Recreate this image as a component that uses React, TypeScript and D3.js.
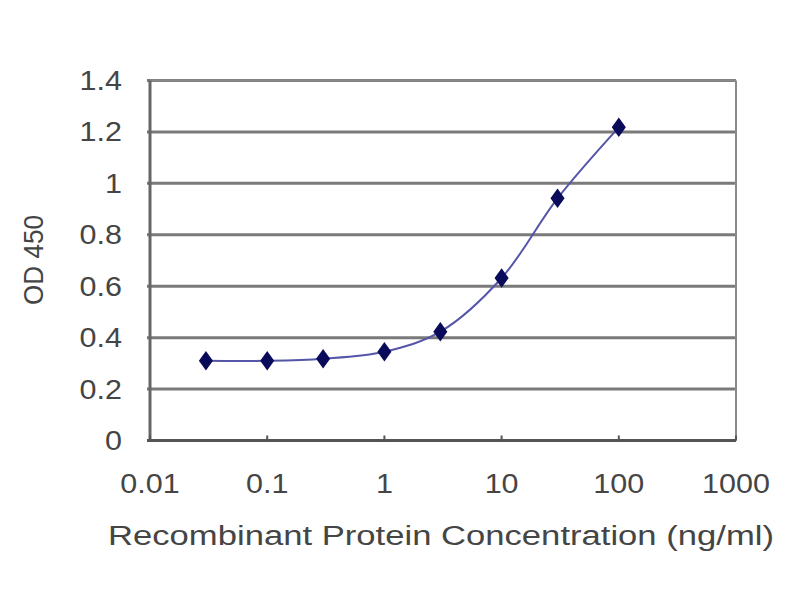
import React from "react";
import * as d3 from "d3";

const concentrations = [0.03, 0.1, 0.3, 1, 3, 10, 30, 100];
const odValues = [0.31, 0.31, 0.318, 0.345, 0.423, 0.632, 0.942, 1.218];
const xTicks = [0.01, 0.1, 1, 10, 100, 1000];
const xTickLabels = ["0.01", "0.1", "1", "10", "100", "1000"];
const yTicks = [0, 0.2, 0.4, 0.6, 0.8, 1, 1.2, 1.4];
const yTickLabels = ["0", "0.2", "0.4", "0.6", "0.8", "1", "1.2", "1.4"];

export default function App() {
  const W = 800, H = 600;
  const left = 150, right = 736, top = 80.5, bottom = 440.5;
  const x = d3.scaleLog().domain([0.01, 1000]).range([left, right]);
  const y = d3.scaleLinear().domain([0, 1.4]).range([bottom, top]);
  const pts: [number, number][] = concentrations.map((c, i) => [x(c), y(odValues[i])]);
  const line = d3.line().curve(d3.curveCatmullRom.alpha(0.5))(pts) || "";
  const font = "'Liberation Sans', Arial, sans-serif";
  const textColor = "#454545";
  const fs = 27;
  const sx = 1.13;
  const diamond = d3.symbol().type(d3.symbolDiamond).size(110)() || "";
  return (
    <svg width={W} height={H} style={{ position: "absolute", left: 0, top: 0, background: "#fff" }}>
      <rect x={0} y={0} width={W} height={H} fill="#fff" />
      {yTicks.map((t, i) =>
        t > 0 ? (
          <line key={"g" + i} x1={left - 3} x2={right} y1={y(t)} y2={y(t)} stroke="#7a7a7a" strokeWidth={3} />
        ) : null
      )}
      <line x1={right} x2={right} y1={top} y2={bottom} stroke="#8a8a8a" strokeWidth={2} />
      <line x1={left} x2={right} y1={top} y2={top} stroke="#8a8a8a" strokeWidth={2} />
      <line x1={left} x2={left} y1={top} y2={bottom} stroke="#666" strokeWidth={3} />
      <line x1={left - 3} x2={right} y1={bottom} y2={bottom} stroke="#555" strokeWidth={3} />
      {xTicks.map((t, i) => (
        <line key={"xt" + i} x1={x(t)} x2={x(t)} y1={bottom} y2={bottom - 5} stroke="#555" strokeWidth={2} />
      ))}
      <path d={line} fill="none" stroke="#5555aa" strokeWidth={2} />
      {pts.map((p, i) => (
        <path key={"p" + i} d={diamond} transform={`translate(${p[0]},${p[1]}) scale(1.25,1)`} fill="#0a0a5a" />
      ))}
      {yTicks.map((t, i) => (
        <text key={"yl" + i} transform={`translate(122,${y(t)}) scale(${sx},1)`} dy="0.35em" textAnchor="end" fontFamily={font} fontSize={fs} fill={textColor}>
          {yTickLabels[i]}
        </text>
      ))}
      {xTicks.map((t, i) => (
        <text key={"xl" + i} transform={`translate(${x(t)},484) scale(${sx},1)`} dy="0.35em" textAnchor="middle" fontFamily={font} fontSize={fs} fill={textColor}>
          {xTickLabels[i]}
        </text>
      ))}
      <text x={441} y={545} textAnchor="middle" fontFamily={font} fontSize={fs} fill={textColor} textLength={666} lengthAdjust="spacingAndGlyphs">
        Recombinant Protein Concentration (ng/ml)
      </text>
      <text transform={`translate(34,260) rotate(-90)`} dy="0.35em" textAnchor="middle" fontFamily={font} fontSize={fs} fill={textColor} textLength={90} lengthAdjust="spacingAndGlyphs">
        OD 450
      </text>
    </svg>
  );
}
